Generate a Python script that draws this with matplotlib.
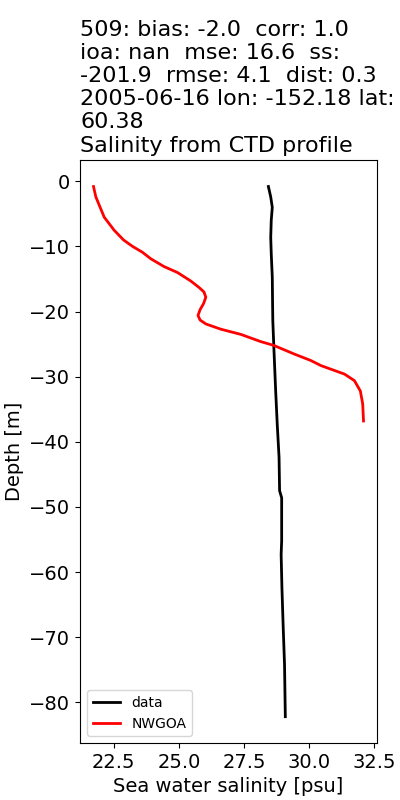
import matplotlib
matplotlib.use('Agg')
import matplotlib.pyplot as plt

# CTD profile (data)
data_sal = [28.43, 28.52, 28.58, 28.54, 28.52, 28.54, 28.58, 28.59, 28.60, 28.64,
            28.71, 28.77, 28.84, 28.86, 28.94, 28.94, 28.92, 28.95, 29.00, 29.05, 29.08]
data_depth = [-0.8, -2.4, -4.0, -6.0, -8.6, -11.1, -14.7, -18.3, -21.4, -25.5,
              -32.2, -37.3, -42.4, -47.5, -48.6, -55.2, -57.3, -62.4, -68.6, -74.2, -82.2]

# model profile (NWGOA)
model_sal = [21.72, 21.81, 22.13, 22.51, 22.87, 23.22, 23.60, 23.92, 24.43, 24.94,
             25.45, 25.77, 25.96, 26.03, 25.94, 25.81, 25.73, 25.81, 26.03, 26.60,
             27.37, 28.13, 28.64, 29.41, 30.05, 30.45, 31.35, 31.73, 31.96, 32.05, 32.08]
model_depth = [-0.8, -2.4, -5.5, -7.5, -9.0, -10.0, -10.9, -11.9, -13.1, -14.0,
               -15.3, -16.3, -17.0, -17.8, -18.8, -19.7, -20.6, -21.3, -21.9, -22.7,
               -23.5, -24.6, -25.2, -26.5, -27.5, -28.3, -29.6, -30.6, -32.2, -34.2, -36.8]

title = ('509: bias: -2.0  corr: 1.0\n'
         'ioa: nan  mse: 16.6  ss:\n'
         '-201.9  rmse: 4.1  dist: 0.3\n'
         '2005-06-16 lon: -152.18 lat:\n'
         '60.38\n'
         'Salinity from CTD profile')

plt.rcParams['font.size'] = 14

fig = plt.figure(figsize=(4, 8), dpi=100)
ax = fig.add_subplot(111)
ax.plot(data_sal, data_depth, color='k', linewidth=2, label='data')
ax.plot(model_sal, model_depth, color='r', linewidth=2, label='NWGOA')
ax.set_xlabel('Sea water salinity [psu]')
ax.set_ylabel('Depth [m]')
ax.set_title(title, loc='left', fontsize=16)
ax.legend(loc='lower left', fontsize=10)
fig.subplots_adjust(left=0.2, right=0.9425, bottom=0.071, top=0.8)
fig.savefig('out.png')
